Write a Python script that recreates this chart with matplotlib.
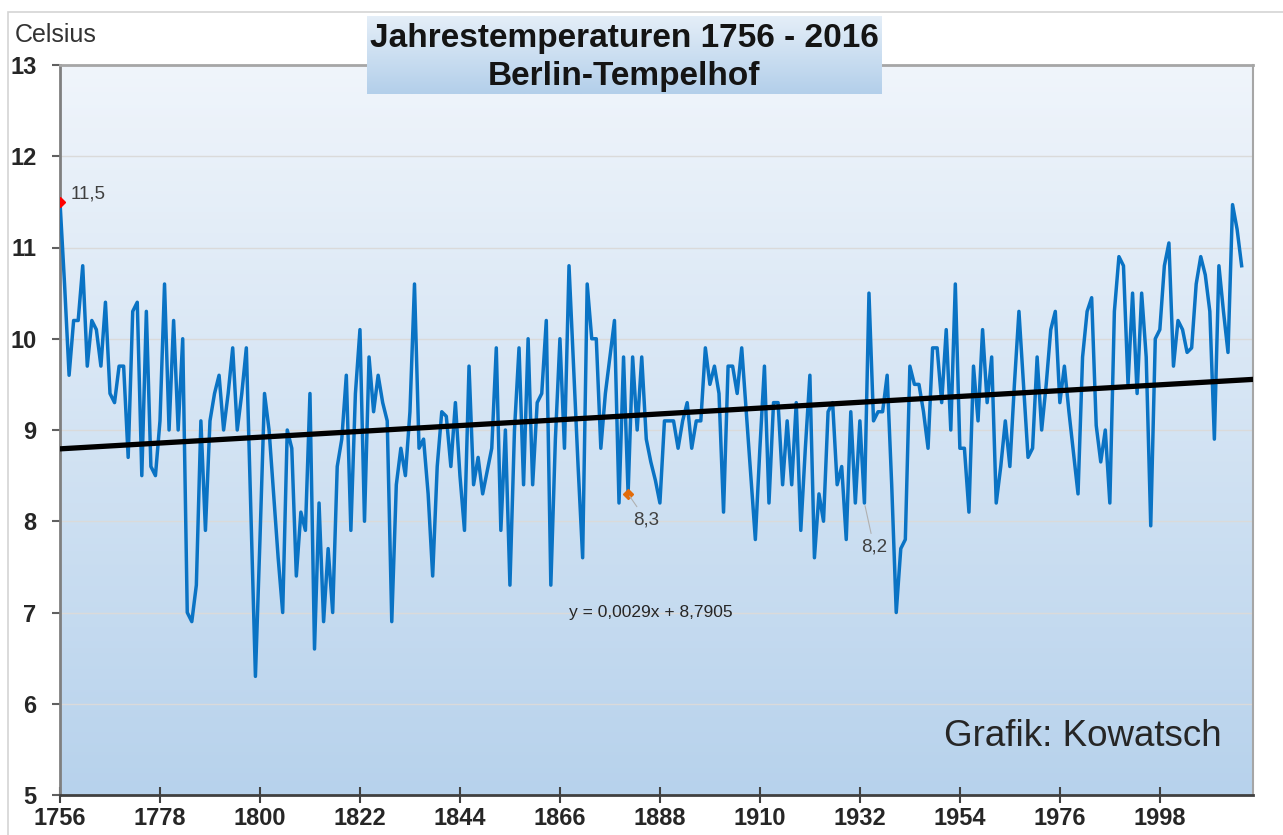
import numpy as np
import matplotlib.pyplot as plt
from matplotlib.colors import LinearSegmentedColormap
from matplotlib.patches import Rectangle

plt.rcParams['font.family'] = ['Liberation Sans', 'DejaVu Sans']

# Jahresmittel Berlin-Tempelhof
first_year = 1756
last_year = 2016
temps = [
    11.5, 10.6, 9.6, 10.2,                                   # 1756-1759
    10.2, 10.8, 9.7, 10.2, 10.1, 9.7, 10.4, 9.4, 9.3, 9.7,   # 1760s
    9.7, 8.7, 10.3, 10.4, 8.5, 10.3, 8.6, 8.5, 9.1, 10.6,    # 1770s
    9.0, 10.2, 9.0, 10.0, 7.0, 6.9, 7.3, 9.1, 7.9, 9.1,      # 1780s
    9.4, 9.6, 9.0, 9.4, 9.9, 9.0, 9.4, 9.9, 8.1, 6.3,        # 1790s
    7.8, 9.4, 9.0, 8.3, 7.6, 7.0, 9.0, 8.8, 7.4, 8.1,        # 1800s
    7.9, 9.4, 6.6, 8.2, 6.9, 7.7, 7.0, 8.6, 8.9, 9.6,        # 1810s
    7.9, 9.4, 10.1, 8.0, 9.8, 9.2, 9.6, 9.3, 9.1, 6.9,       # 1820s
    8.4, 8.8, 8.5, 9.2, 10.6, 8.8, 8.9, 8.3, 7.4, 8.6,       # 1830s
    9.2, 9.15, 8.6, 9.3, 8.5, 7.9, 9.7, 8.4, 8.7, 8.3,       # 1840s
    8.55, 8.8, 9.9, 7.9, 9.0, 7.3, 9.0, 9.9, 8.4, 10.0,      # 1850s
    8.4, 9.3, 9.4, 10.2, 7.3, 8.9, 10.0, 8.8, 10.8, 9.7,     # 1860s
    8.6, 7.6, 10.6, 10.0, 10.0, 8.8, 9.4, 9.8, 10.2, 8.2,    # 1870s
    9.8, 8.3, 9.8, 9.0, 9.8, 8.9, 8.65, 8.45, 8.2, 9.1,      # 1880s
    9.1, 9.1, 8.8, 9.1, 9.3, 8.8, 9.1, 9.1, 9.9, 9.5,        # 1890s
    9.7, 9.4, 8.1, 9.7, 9.7, 9.4, 9.9, 9.2, 8.5, 7.8,        # 1900s
    8.8, 9.7, 8.2, 9.3, 9.3, 8.4, 9.1, 8.4, 9.3, 7.9,        # 1910s
    8.8, 9.6, 7.6, 8.3, 8.0, 9.2, 9.3, 8.4, 8.6, 7.8,        # 1920s
    9.2, 8.2, 9.1, 8.2, 10.5, 9.1, 9.2, 9.2, 9.6, 8.4,       # 1930s
    7.0, 7.7, 7.8, 9.7, 9.5, 9.5, 9.2, 8.8, 9.9, 9.9,        # 1940s
    9.3, 10.1, 9.0, 10.6, 8.8, 8.8, 8.1, 9.7, 9.1, 10.1,     # 1950s
    9.3, 9.8, 8.2, 8.6, 9.1, 8.6, 9.5, 10.3, 9.5, 8.7,       # 1960s
    8.8, 9.8, 9.0, 9.5, 10.1, 10.3, 9.3, 9.7, 9.2, 8.75,     # 1970s
    8.3, 9.8, 10.3, 10.45, 9.05, 8.65, 9.0, 8.2, 10.3, 10.9, # 1980s
    10.8, 9.5, 10.5, 9.4, 10.5, 9.8, 7.95, 10.0, 10.1, 10.8, # 1990s
    11.05, 9.7, 10.2, 10.1, 9.85, 9.9, 10.6, 10.9, 10.7, 10.3,  # 2000s
    8.9, 10.8, 10.3, 9.85, 11.47, 11.2, 10.8,                # 2010-2016
]
years = list(range(first_year, last_year + 1))

# lineare Trendlinie aus der Vorlage (x = laufende Nummer des Jahres)
trend_slope = 0.0029
trend_intercept = 8.7905

x_ticks = list(range(1756, 2017, 22))
y_ticks = list(range(5, 14))

# beschriftete Werte: (Jahr, Text, Versatz in Punkten, Markerfarbe)
labels = [
    (1756, "11,5", (8, 6), "red"),
    (1881, "8,3", (13, -19), "#e36c0a"),
    (1933, "8,2", (7, -32), None),
]

fig = plt.figure(figsize=(12.83, 8.35), dpi=100)
ax = fig.add_axes([60 / 1283, 40 / 835, 1193 / 1283, 730 / 835])

x_left, x_right = 1756, 2018.5

# Hintergrund mit Farbverlauf
bg = LinearSegmentedColormap.from_list("bg", ["#f0f5fb", "#b7d2ec"])
ax.imshow(np.linspace(0, 1, 256).reshape(-1, 1), extent=[x_left, x_right, 5, 13],
          aspect="auto", cmap=bg, origin="upper", zorder=0)

ax.plot(years, temps, color="#0a73c4", lw=2.5, zorder=3)

tx = np.array([x_left, x_right])
ax.plot(tx, trend_slope * (tx - first_year + 1) + trend_intercept,
        color="black", lw=3.8, zorder=4)

for yr, txt, off, col in labels:
    val = temps[yr - first_year]
    if col:
        ax.plot(yr, val, marker="D", ms=5, color=col, zorder=5)
    arrow = None if yr == first_year else dict(arrowstyle="-", color="#b0b0b0", lw=0.8)
    ax.annotate(txt, xy=(yr, val), xytext=off, textcoords="offset points",
                fontsize=13.5, color="#404040", ha="left" if arrow is None else "center",
                va="center", arrowprops=arrow, zorder=6)

ax.text(1886, 7.0, "y = 0,0029x + 8,7905", fontsize=12.5, color="#262626",
        ha="center", va="center", zorder=6)

ax.set_xlim(x_left, x_right)
ax.set_ylim(5, 13)
ax.set_xticks(x_ticks)
ax.set_yticks(y_ticks)
ax.tick_params(axis="both", labelsize=17, colors="#262626")
for lab in ax.get_xticklabels() + ax.get_yticklabels():
    lab.set_fontweight("bold")
ax.tick_params(axis="y", direction="out", length=6, width=1.5, pad=11, color="#606060")
ax.tick_params(axis="x", direction="inout", length=11, width=1.5, pad=3, color="#404040")

ax.set_axisbelow(True)
ax.yaxis.grid(True, color="#dadada", lw=1)

ax.spines["left"].set_color("#7f7f7f")
ax.spines["left"].set_linewidth(2)
ax.spines["bottom"].set_color("#404040")
ax.spines["bottom"].set_linewidth(2)
ax.spines["top"].set_color("#a6a6a6")
ax.spines["top"].set_linewidth(2)
ax.spines["right"].set_color("#a6a6a6")
ax.spines["right"].set_linewidth(1.5)

# äußerer Rahmen
fig.add_artist(Rectangle((8 / 1283, -0.05), 1.1, 1 - 12 / 835 + 0.05,
                         transform=fig.transFigure, fill=False, ec="#d4d4d4", lw=1.2))

fig.text(15 / 1283, 1 - 35 / 835, "Celsius", fontsize=18, color="#333333", va="center")

# Titelbox
tax = fig.add_axes([367 / 1283, 1 - 94 / 835, 515 / 1283, 78 / 835])
title_bg = LinearSegmentedColormap.from_list("tb", ["#e4eef8", "#b3cfea"])
tax.imshow(np.linspace(0, 1, 64).reshape(-1, 1), extent=[0, 1, 0, 1],
           aspect="auto", cmap=title_bg, origin="upper")
tax.set_axis_off()
fig.text(624 / 1283, 1 - 38 / 835, "Jahrestemperaturen 1756 - 2016", fontsize=24,
         fontweight="bold", ha="center", va="center", color="#141414")
fig.text(624 / 1283, 1 - 76 / 835, "Berlin-Tempelhof", fontsize=24,
         fontweight="bold", ha="center", va="center", color="#141414")

fig.text(1222 / 1283, 1 - 736 / 835, "Grafik: Kowatsch", fontsize=26.5,
         color="#262626", ha="right", va="center")

fig.savefig("out.png", dpi=100)
